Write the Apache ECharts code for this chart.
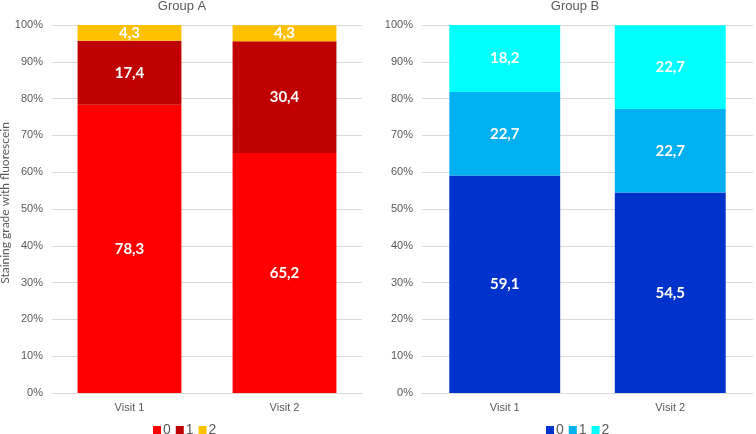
<!DOCTYPE html>
<html>
<head>
<meta charset="utf-8">
<script src="https://cdn.jsdelivr.net/npm/echarts@6/dist/echarts.min.js"></script>
<style>html,body{margin:0;padding:0;background:#fff}#c{width:756px;height:434px}</style>
</head>
<body>
<div id="c"></div>
<script>
var categories = ['Visit 1', 'Visit 2'];
var gradeNames = ['0', '1', '2'];
var groupA_0 = [78.3, 65.2];
var groupA_1 = [17.4, 30.4];
var groupA_2 = [4.3, 4.3];
var groupB_0 = [59.1, 54.5];
var groupB_1 = [22.7, 22.7];
var groupB_2 = [18.2, 22.7];
var yTicks = [0, 10, 20, 30, 40, 50, 60, 70, 80, 90, 100];

var colorsA = ['#FF0000', '#C00000', '#FFC000'];
var colorsB = ['#0033CC', '#00B0F0', '#00FFFF'];

var labelFont = 'Lato, "Open Sans", sans-serif';
var arial = '"Liberation Sans", Arial, sans-serif';
var tickColor = '#595959';

function mkSeries(prefix, idx, arrs, colors) {
  return arrs.map(function (d, i) {
    return {
      name: prefix + gradeNames[i],
      type: 'bar',
      stack: prefix,
      xAxisIndex: idx,
      yAxisIndex: idx,
      data: d,
      barCategoryGap: '33%',
      itemStyle: { color: colors[i] },
      label: {
        show: true,
        position: 'inside',
        color: '#fff',
        fontWeight: 'bold',
        fontSize: 15,
        fontFamily: labelFont,
        formatter: function (p) { return String(p.value).replace('.', ','); }
      }
    };
  });
}

function mkX(idx) {
  return {
    type: 'category', gridIndex: idx, data: categories,
    axisLine: { show: true, lineStyle: { color: '#d9d9d9' } },
    axisTick: { show: false },
    axisLabel: { color: tickColor, fontSize: 11, fontFamily: arial, margin: 9 }
  };
}
function mkY(idx, name) {
  return {
    type: 'value', gridIndex: idx, min: yTicks[0], max: yTicks[yTicks.length - 1], interval: 10,
    name: name, nameLocation: 'middle', nameGap: 38,
    nameTextStyle: { color: tickColor, fontSize: 12, fontFamily: labelFont, padding: [0, 0, 0, 12] },
    axisLine: { show: false }, axisTick: { show: false },
    splitLine: { lineStyle: { color: '#d9d9d9' } },
    axisLabel: { color: tickColor, fontSize: 11, fontFamily: arial, formatter: '{value}%', margin: 9 }
  };
}

var chart = echarts.init(document.getElementById('c'), null, { renderer: 'canvas' });
chart.setOption({
  animation: false,
  title: [
    { text: 'Group A', left: 182, top: 0, padding: 0, textAlign: 'center', textStyle: { color: tickColor, fontSize: 13, fontWeight: 'normal', fontFamily: arial } },
    { text: 'Group B', left: 575, top: 0, padding: 0, textAlign: 'center', textStyle: { color: tickColor, fontSize: 13, fontWeight: 'normal', fontFamily: arial } }
  ],
  legend: [
    { data: gradeNames.map(function (g) { return 'A' + g; }), left: 153, top: 423, itemWidth: 8, itemHeight: 8, itemGap: 5, icon: 'rect', padding: 0,
      formatter: function (n) { return n.slice(1); }, textStyle: { color: tickColor, fontSize: 14, fontFamily: arial, padding: [0, 0, 0, -3] } },
    { data: gradeNames.map(function (g) { return 'B' + g; }), left: 546, top: 423, itemWidth: 8, itemHeight: 8, itemGap: 5, icon: 'rect', padding: 0,
      formatter: function (n) { return n.slice(1); }, textStyle: { color: tickColor, fontSize: 14, fontFamily: arial, padding: [0, 0, 0, -3] } }
  ],
  grid: [
    { left: 52, right: 394, top: 25, bottom: 41, outerBoundsMode: 'none' },
    { left: 422, right: 3, top: 25, bottom: 41, outerBoundsMode: 'none' }
  ],
  xAxis: [mkX(0), mkX(1)],
  yAxis: [mkY(0, 'Staining grade with fluorescein'), mkY(1, '')],
  series: mkSeries('A', 0, [groupA_0, groupA_1, groupA_2], colorsA)
    .concat(mkSeries('B', 1, [groupB_0, groupB_1, groupB_2], colorsB))
});
</script>
</body>
</html>
